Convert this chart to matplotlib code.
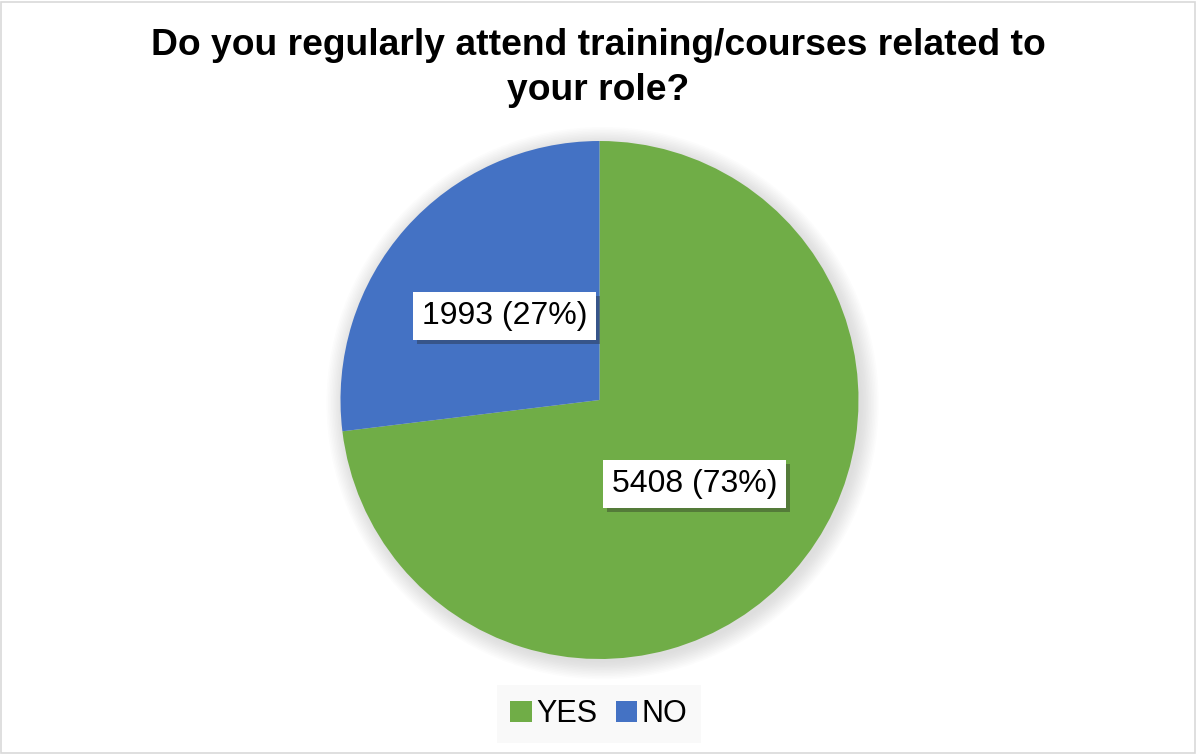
import matplotlib.pyplot as plt
import matplotlib.patheffects as pe
from matplotlib.patches import Circle, Rectangle

plt.rcParams['font.family'] = ['Liberation Sans', 'DejaVu Sans']

# chart data
answers = ['YES', 'NO']
counts = [5408, 1993]
colors = ['#70AD47', '#4472C4']
title = 'Do you regularly attend training/courses related to\nyour role?'

W, H = 1197, 755
fig = plt.figure(figsize=(W / 100, H / 100), dpi=100)

# pie centre ~ (599, 400) px, radius ~259 px
cx, cy, r = 599.5, 400, 259
ax = fig.add_axes([(cx - r) / W, (H - cy - r) / H, 2 * r / W, 2 * r / H])

# soft shadow behind the pie
for i in range(12):
    ax.add_patch(Circle((0.012, -0.012), 1.0 + i * 0.006, color='#909090',
                        alpha=0.025, lw=0, zorder=0, clip_on=False))

total = sum(counts)
def fmt(p):
    n = int(round(p * total / 100))
    return '%d (%d%%)' % (n, round(p))

wedges, texts, autotexts = ax.pie(counts, colors=colors, startangle=90, counterclock=False,
                                  radius=1, autopct=fmt, pctdistance=0.49,
                                  wedgeprops=dict(linewidth=0), textprops=dict(fontsize=23))
ax.set_xlim(-1, 1)
ax.set_ylim(-1, 1)
ax.set_aspect('equal')
ax.axis('off')

for w in wedges:
    w.set_zorder(2)
for t in autotexts:
    t.set_bbox(dict(boxstyle='square,pad=0.28', facecolor='white', edgecolor='none'))
    t.get_bbox_patch().set_path_effects([pe.SimplePatchShadow(offset=(3, -3), shadow_rgbFace='#202020', alpha=0.35),
                                         pe.Normal()])
    t.set_zorder(5)

fig.text(0.5, 1 - 28 / H, title, ha='center', va='top', fontsize=26.8, fontweight='bold',
         linespacing=1.38)

leg = fig.legend(wedges, answers, loc='center', bbox_to_anchor=(599 / W, 1 - 714 / H),
                 ncol=2, frameon=True, fontsize=22, handlelength=0.7, handleheight=0.7,
                 handletextpad=0.15, columnspacing=0.6, borderpad=0.15, borderaxespad=0)
leg.get_frame().set_facecolor('#f8f8f8')
leg.get_frame().set_edgecolor('none')
leg.get_frame().set_boxstyle('square')

fig.add_artist(Rectangle((0.001, 0.002), 0.997, 0.996, transform=fig.transFigure,
                         fill=False, edgecolor='#d9d9d9', lw=1.2))

fig.savefig('out.png', dpi=100)
